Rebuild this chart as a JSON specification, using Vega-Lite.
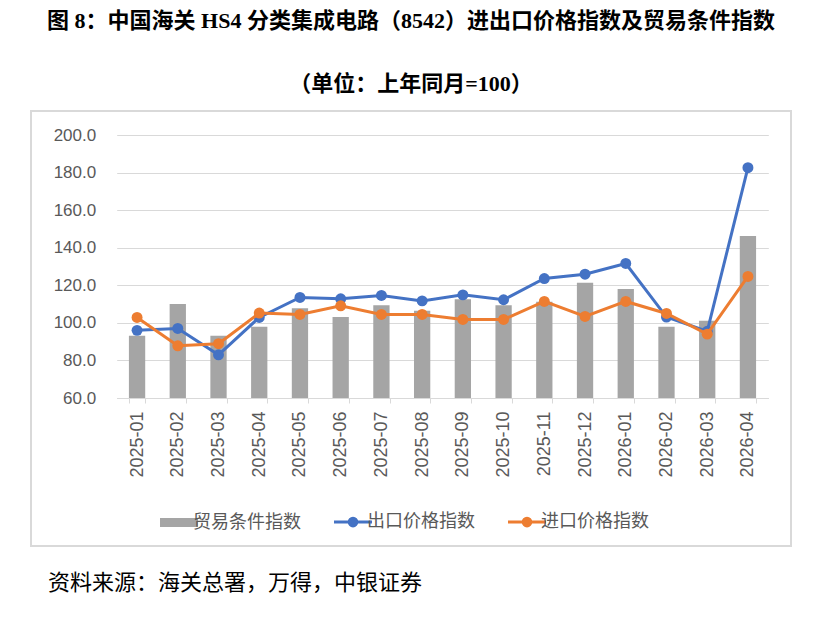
{
  "$schema": "https://vega.github.io/schema/vega-lite/v6.json",
  "background": "white",
  "padding": {"left": 21, "top": 9, "right": 0, "bottom": 24},
  "title": {
    "text": "资料来源：海关总署，万得，中银证券",
    "orient": "bottom",
    "anchor": "start",
    "dx": 27,
    "offset": 26,
    "font": "Noto Sans CJK SC",
    "fontSize": 22,
    "fontWeight": "normal",
    "color": "#000000"
  },
  "vconcat": [
    {
      "title": {
        "text": "图 8：中国海关 HS4 分类集成电路（8542）进出口价格指数及贸易条件指数",
        "subtitle": "（单位：上年同月=100）",
        "anchor": "middle",
        "frame": "group",
        "font": "Liberation Serif, Noto Sans CJK SC",
        "fontSize": 22,
        "fontWeight": "bold",
        "color": "#000000",
        "subtitleFont": "Liberation Serif, Noto Sans CJK SC",
        "subtitleFontSize": 22,
        "subtitleFontWeight": "bold",
        "subtitleColor": "#000000",
        "subtitlePadding": 41,
        "offset": 15
      },
      "width": 760,
      "height": 435,
      "data": {
        "values": [
          {"month": "2025-01", "series": "贸易条件指数", "value": 93.1},
          {"month": "2025-02", "series": "贸易条件指数", "value": 110.1},
          {"month": "2025-03", "series": "贸易条件指数", "value": 93.1},
          {"month": "2025-04", "series": "贸易条件指数", "value": 97.9},
          {"month": "2025-05", "series": "贸易条件指数", "value": 107.8},
          {"month": "2025-06", "series": "贸易条件指数", "value": 103.1},
          {"month": "2025-07", "series": "贸易条件指数", "value": 109.4},
          {"month": "2025-08", "series": "贸易条件指数", "value": 106.4},
          {"month": "2025-09", "series": "贸易条件指数", "value": 112.6},
          {"month": "2025-10", "series": "贸易条件指数", "value": 109.4},
          {"month": "2025-11", "series": "贸易条件指数", "value": 111.2},
          {"month": "2025-12", "series": "贸易条件指数", "value": 121.3},
          {"month": "2026-01", "series": "贸易条件指数", "value": 118.0},
          {"month": "2026-02", "series": "贸易条件指数", "value": 97.9},
          {"month": "2026-03", "series": "贸易条件指数", "value": 101.1},
          {"month": "2026-04", "series": "贸易条件指数", "value": 146.3},
          {"month": "2025-01", "series": "出口价格指数", "value": 96.0},
          {"month": "2025-02", "series": "出口价格指数", "value": 97.0},
          {"month": "2025-03", "series": "出口价格指数", "value": 83.0},
          {"month": "2025-04", "series": "出口价格指数", "value": 102.9},
          {"month": "2025-05", "series": "出口价格指数", "value": 113.5},
          {"month": "2025-06", "series": "出口价格指数", "value": 112.8},
          {"month": "2025-07", "series": "出口价格指数", "value": 114.6},
          {"month": "2025-08", "series": "出口价格指数", "value": 111.7},
          {"month": "2025-09", "series": "出口价格指数", "value": 114.9},
          {"month": "2025-10", "series": "出口价格指数", "value": 112.3},
          {"month": "2025-11", "series": "出口价格指数", "value": 123.6},
          {"month": "2025-12", "series": "出口价格指数", "value": 125.9},
          {"month": "2026-01", "series": "出口价格指数", "value": 131.6},
          {"month": "2026-02", "series": "出口价格指数", "value": 103.1},
          {"month": "2026-03", "series": "出口价格指数", "value": 95.5},
          {"month": "2026-04", "series": "出口价格指数", "value": 182.6},
          {"month": "2025-01", "series": "进口价格指数", "value": 102.9},
          {"month": "2025-02", "series": "进口价格指数", "value": 87.8},
          {"month": "2025-03", "series": "进口价格指数", "value": 88.9},
          {"month": "2025-04", "series": "进口价格指数", "value": 105.2},
          {"month": "2025-05", "series": "进口价格指数", "value": 104.5},
          {"month": "2025-06", "series": "进口价格指数", "value": 109.1},
          {"month": "2025-07", "series": "进口价格指数", "value": 104.5},
          {"month": "2025-08", "series": "进口价格指数", "value": 104.5},
          {"month": "2025-09", "series": "进口价格指数", "value": 101.8},
          {"month": "2025-10", "series": "进口价格指数", "value": 101.8},
          {"month": "2025-11", "series": "进口价格指数", "value": 111.4},
          {"month": "2025-12", "series": "进口价格指数", "value": 103.4},
          {"month": "2026-01", "series": "进口价格指数", "value": 111.4},
          {"month": "2026-02", "series": "进口价格指数", "value": 105.0},
          {"month": "2026-03", "series": "进口价格指数", "value": 94.0},
          {"month": "2026-04", "series": "进口价格指数", "value": 124.7}
        ]
      },
      "encoding": {
        "x": {
          "field": "month",
          "type": "nominal",
          "sort": null,
          "scale": {"range": [85.7, 737.3], "paddingInner": 0.6, "paddingOuter": 0.3},
          "axis": {
            "title": null,
            "labelAngle": -90,
            "labelFontSize": 18,
            "labelPadding": 8,
            "tickSize": 5,
            "tickBand": "extent",
            "offset": -148,
            "grid": false
          }
        },
        "color": {
          "field": "series",
          "type": "nominal",
          "scale": {
            "domain": ["贸易条件指数", "出口价格指数", "进口价格指数"],
            "range": ["#a5a5a5", "#4472c4", "#ed7d31"]
          },
          "legend": {
            "orient": "none",
            "direction": "horizontal",
            "legendX": 139,
            "legendY": 402,
            "title": null,
            "padding": 0,
            "labelFont": "Noto Sans CJK SC",
            "labelFontSize": 18,
            "labelColor": "#595959",
            "labelOffset": 5,
            "columnPadding": 27,
            "symbolSize": 1444,
            "symbolStrokeWidth": 3,
            "encode": {
              "symbols": {
                "update": {
                  "shape": {"signal": "datum.value === '贸易条件指数' ? 'M-1,-0.24H1V0.24H-1Z' : 'M-1,0H-0.2A0.2,0.2 0 1 1 0.2,0A0.2,0.2 0 1 1 -0.2,0M0.2,0H1'"},
                  "fill": {"scale": "color", "field": "value"},
                  "stroke": {"scale": "color", "field": "value"},
                  "strokeWidth": {"signal": "datum.value === '贸易条件指数' ? 0 : 3"},
                  "opacity": {"value": 1},
                  "fillOpacity": {"value": 1}
                }
              }
            }
          }
        }
      },
      "layer": [
        {
          "transform": [{"filter": "datum.series === '贸易条件指数'"}],
          "mark": {"type": "bar"},
          "encoding": {
            "y": {
              "field": "value",
              "type": "quantitative",
              "scale": {"domain": [60, 200], "range": [287, 24], "nice": false, "zero": false},
              "axis": {
                "title": null,
                "values": [60, 80, 100, 120, 140, 160, 180, 200],
                "format": ".1f",
                "domain": false,
                "ticks": false,
                "tickSize": 0,
                "labelPadding": 21,
                "labelFontSize": 17,
                "offset": -85.7,
                "grid": true
              }
            },
            "y2": {"datum": 60}
          }
        },
        {
          "transform": [{"filter": "datum.series === '出口价格指数'"}],
          "mark": {"type": "line", "strokeWidth": 3, "point": {"filled": true, "size": 120, "opacity": 1}},
          "encoding": {
            "y": {"field": "value", "type": "quantitative"}
          }
        },
        {
          "transform": [{"filter": "datum.series === '进口价格指数'"}],
          "mark": {"type": "line", "strokeWidth": 3, "point": {"filled": true, "size": 120, "opacity": 1}},
          "encoding": {
            "y": {"field": "value", "type": "quantitative"}
          }
        }
      ]
    }
  ],
  "config": {
    "view": {"stroke": "#d9d9d9", "strokeWidth": 2},
    "axis": {
      "labelFont": "Liberation Sans",
      "labelColor": "#595959",
      "gridColor": "#d9d9d9",
      "gridWidth": 1,
      "domainColor": "#d9d9d9",
      "domainWidth": 1,
      "tickColor": "#d9d9d9"
    }
  }
}
